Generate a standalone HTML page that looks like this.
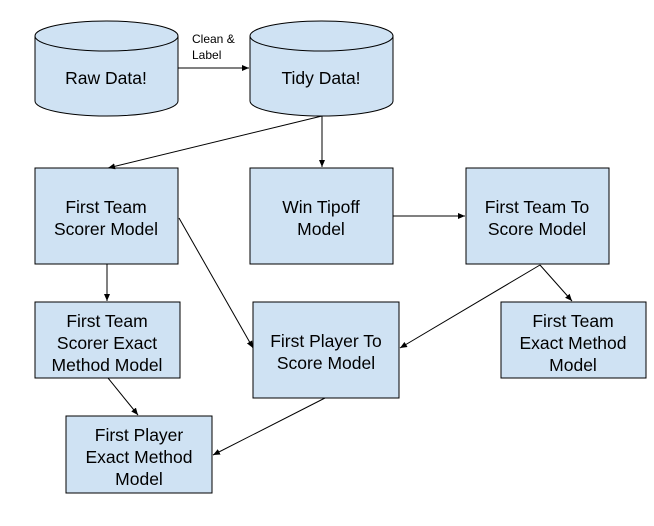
<!DOCTYPE html>
<html><head><style>body{margin:0;background:#fff}</style></head><body>
<svg width="654" height="521" viewBox="0 0 654 521" xmlns="http://www.w3.org/2000/svg" font-family="Liberation Sans, sans-serif">
<defs><marker id="a" markerWidth="8" markerHeight="8" refX="7" refY="4" orient="auto" markerUnits="userSpaceOnUse"><path d="M0,1 L7,4 L0,7 z" fill="#000"/></marker></defs>
<g fill="#cfe2f3" stroke="#000" stroke-width="1">
<path d="M35,36 A71.5,15 0 0 1 178,36 L178,101 A71.5,15 0 0 1 35,101 Z"/>
<path d="M35,36 A71.5,15 0 0 0 178,36" fill="none"/>
<path d="M250,36 A71.5,15 0 0 1 393,36 L393,101 A71.5,15 0 0 1 250,101 Z"/>
<path d="M250,36 A71.5,15 0 0 0 393,36" fill="none"/>
<rect x="35" y="168" width="143" height="96"/>
<rect x="250" y="168" width="143" height="96"/>
<rect x="466" y="168" width="143" height="96"/>
<rect x="35" y="302" width="145" height="76"/>
<rect x="253" y="302" width="146" height="96"/>
<rect x="501" y="302" width="145" height="76"/>
<rect x="66" y="416" width="146" height="77"/>
</g>
<g stroke="#000" stroke-width="1" fill="none" marker-end="url(#a)">
<line x1="178" y1="68" x2="249" y2="68"/>
<line x1="322" y1="116" x2="108" y2="168"/>
<line x1="322" y1="116" x2="322" y2="167"/>
<line x1="393" y1="216" x2="465" y2="216"/>
<line x1="107" y1="264" x2="107" y2="301"/>
<line x1="179" y1="218" x2="253" y2="348"/>
<line x1="540" y1="265" x2="572" y2="301"/>
<line x1="540" y1="265" x2="400" y2="348"/>
<line x1="108" y1="378" x2="138" y2="415"/>
<line x1="325" y1="398" x2="213" y2="455"/>
</g>
<g font-size="17.5" text-anchor="middle" fill="#000">
<text x="106" y="84">Raw Data!</text>
<text x="321" y="84">Tidy Data!</text>
<text x="106" y="213">First Team</text><text x="106" y="235">Scorer Model</text>
<text x="321" y="213">Win Tipoff</text><text x="321" y="235">Model</text>
<text x="537" y="213">First Team To</text><text x="537" y="235">Score Model</text>
<text x="107" y="327">First Team</text><text x="107" y="349">Scorer Exact</text><text x="107" y="371">Method Model</text>
<text x="326" y="347">First Player To</text><text x="326" y="369">Score Model</text>
<text x="573" y="327">First Team</text><text x="573" y="349">Exact Method</text><text x="573" y="371">Model</text>
<text x="139" y="441">First Player</text><text x="139" y="463">Exact Method</text><text x="139" y="485">Model</text>
</g>
<g font-size="12" fill="#000"><text x="192" y="43">Clean &amp;</text><text x="192" y="59">Label</text></g>
</svg>
</body></html>
